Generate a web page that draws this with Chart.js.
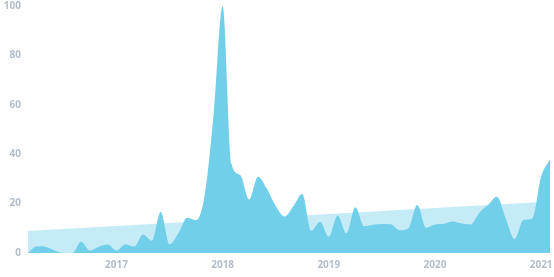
<!DOCTYPE html>
<html>
<head>
<meta charset="utf-8">
<script src="https://cdn.jsdelivr.net/npm/chart.js@4.4.1/dist/chart.umd.min.js"></script>
<style>
  html, body { margin: 0; padding: 0; background: #fff; }
  #wrap { width: 554px; height: 277px; }
</style>
</head>
<body>
<div id="wrap"><canvas id="trendChart"></canvas></div>
<script>
// monthly points, Mar 2016 .. Feb 2021
const months = [
  '2016-03','2016-04','2016-05','2016-06','2016-07','2016-08','2016-09','2016-10','2016-11','2016-12',
  '2017-01','2017-02','2017-03','2017-04','2017-05','2017-06','2017-07','2017-08','2017-09','2017-10','2017-11','2017-12',
  '2018-01','2018-02','2018-03','2018-04','2018-05','2018-06','2018-07','2018-08','2018-09','2018-10','2018-11','2018-12',
  '2019-01','2019-02','2019-03','2019-04','2019-05','2019-06','2019-07','2019-08','2019-09','2019-10','2019-11','2019-12',
  '2020-01','2020-02','2020-03','2020-04','2020-05','2020-06','2020-07','2020-08','2020-09','2020-10','2020-11','2020-12',
  '2021-01','2021-02'
];

const interest = [
  0, 2.7, 2.5, 1, 0, 0, 4.6, 1, 2.5, 3.4,
  1, 3.4, 2.6, 7.5, 5, 16.6, 3.5, 8, 14.3, 13.3, 24, 57,
  100, 36, 31.5, 21.7, 30.9, 26, 19, 14.7, 19, 23.9, 9, 12.7,
  6.6, 15.2, 8, 18.5, 10.8, 11.4, 11.7, 11.6, 9.2, 10, 19.4, 10.2,
  11.5, 11.8, 12.8, 12, 11.5, 16.2, 19.5, 22.8, 14, 5.7, 13.4, 14,
  31, 38
];

// trend line: only the two ends, straight line between them
const trendStart = 8.9;
const trendEnd = 20.9;
const trend = months.map((m, i) => i === 0 ? trendStart : (i === months.length - 1 ? trendEnd : null));

const yTicks = [0, 20, 40, 60, 80, 100];

const labelFont = { family: "'Open Sans', sans-serif", size: 10, weight: '700' };
const labelColor = '#b3bdca';

new Chart(document.getElementById('trendChart').getContext('2d'), {
  type: 'line',
  data: {
    labels: months,
    datasets: [
      {
        data: interest,
        backgroundColor: '#72cfea',
        borderColor: '#72cfea',
        borderWidth: 0,
        fill: 'origin',
        pointRadius: 0,
        cubicInterpolationMode: 'monotone',
        order: 0
      },
      {
        data: trend,
        backgroundColor: '#c5ebf6',
        borderColor: '#c5ebf6',
        borderWidth: 0,
        fill: 'origin',
        pointRadius: 0,
        spanGaps: true,
        order: 1
      }
    ]
  },
  options: {
    responsive: true,
    maintainAspectRatio: false,
    animation: false,
    layout: { autoPadding: false, padding: { top: 6, right: 4, left: 0, bottom: 0 } },
    plugins: { legend: { display: false }, tooltip: { enabled: false } },
    scales: {
      x: {
        grid: { display: false, drawTicks: false },
        border: { display: false },
        ticks: {
          autoSkip: false,
          maxRotation: 0,
          padding: 6,
          color: labelColor,
          font: labelFont,
          callback: (v, i) => months[i].endsWith('-01') ? months[i].slice(0, 4) : ''
        },
        afterFit: s => { s.height = 24; s.paddingLeft = 0; s.paddingRight = 0; }
      },
      y: {
        min: 0,
        max: 100,
        grid: { display: false, drawTicks: false },
        border: { display: false },
        afterBuildTicks: s => { s.ticks = yTicks.map(v => ({ value: v })); },
        ticks: {
          padding: 7,
          color: labelColor,
          font: labelFont
        },
        afterFit: s => { s.width = 28; s.paddingTop = 0; s.paddingBottom = 0; }
      }
    }
  }
});
</script>
</body>
</html>
